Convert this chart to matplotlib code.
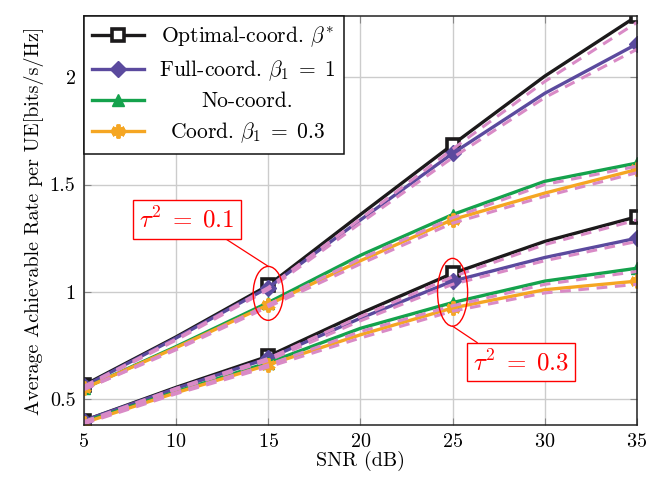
import numpy as np
import matplotlib
matplotlib.use("Agg")
import matplotlib.pyplot as plt
from matplotlib.patches import Ellipse
from matplotlib.ticker import FuncFormatter

plt.rcParams['font.family'] = 'serif'
plt.rcParams['font.serif'] = ['cmr10', 'DejaVu Serif']
plt.rcParams['mathtext.fontset'] = 'cm'
plt.rcParams['axes.unicode_minus'] = False
plt.rcParams['axes.formatter.use_mathtext'] = True

# SNR grid (markers on every other point)
snr = [5, 10, 15, 20, 25, 30, 35]

# tau^2 = 0.1 (analytical, solid)
opt1 = [0.565, 0.79, 1.03, 1.36, 1.686, 2.005, 2.285]
full1 = [0.56, 0.785, 1.02, 1.335, 1.645, 1.925, 2.155]
no1 = [0.55, 0.745, 0.95, 1.17, 1.36, 1.515, 1.60]
crd1 = [0.55, 0.74, 0.94, 1.145, 1.337, 1.46, 1.57]
# tau^2 = 0.3
opt3 = [0.40, 0.555, 0.70, 0.90, 1.086, 1.235, 1.35]
full3 = [0.40, 0.55, 0.69, 0.877, 1.05, 1.16, 1.25]
no3 = [0.395, 0.535, 0.67, 0.83, 0.95, 1.05, 1.11]
crd3 = [0.39, 0.53, 0.66, 0.80, 0.925, 1.01, 1.05]

# simulated (pink dashed)
opt1_d = [0.56, 0.78, 1.02, 1.34, 1.665, 1.98, 2.255]
full1_d = [0.555, 0.775, 1.01, 1.32, 1.625, 1.905, 2.13]
no1_d = [0.545, 0.735, 0.94, 1.155, 1.345, 1.5, 1.585]
crd1_d = [0.545, 0.73, 0.93, 1.13, 1.32, 1.445, 1.555]
opt3_d = [0.395, 0.55, 0.69, 0.885, 1.07, 1.22, 1.335]
full3_d = [0.395, 0.545, 0.68, 0.865, 1.035, 1.145, 1.235]
no3_d = [0.39, 0.53, 0.66, 0.815, 0.935, 1.035, 1.095]
crd3_d = [0.385, 0.525, 0.65, 0.785, 0.91, 0.995, 1.035]

labels = [r'Optimal-coord. $\beta^{*}$', r'Full-coord. $\beta_1\;=\;1$',
          'No-coord.', r'Coord. $\beta_1\;=\;0.3$']

c_blk = '#1c1a1b'
c_pur = '#5b4a9e'
c_grn = '#14a24c'
c_org = '#f5a623'
c_pnk = '#d98ac6'

fig = plt.figure(figsize=(6.55, 4.78), dpi=100)
ax = fig.add_axes([0.128, 0.111, 0.8445, 0.8555])

styles = [
    dict(color=c_blk, marker='s', ms=9, mfc='white', mec=c_blk, mew=2.6),
    dict(color=c_pur, marker='D', ms=8, mfc=c_pur, mec=c_pur),
    dict(color=c_grn, marker='^', ms=9, mfc=c_grn, mec=c_grn),
    dict(color=c_org, marker=(6, 2, 0), ms=10, mec=c_org, mew=2.8),
]

sets1 = [opt1, full1, no1, crd1]
sets3 = [opt3, full3, no3, crd3]
dash1 = [opt1_d, full1_d, no1_d, crd1_d]
dash3 = [opt3_d, full3_d, no3_d, crd3_d]

handles = []
for i in range(4):
    h, = ax.plot(snr, sets1[i], lw=2.4, markevery=2, label=labels[i], **styles[i])
    ax.plot(snr, sets3[i], lw=2.4, markevery=2, **styles[i])
    handles.append(h)
for i in range(4):
    ax.plot(snr, dash1[i], color=c_pnk, lw=2.2, ls=(0, (3.5, 2.5)))
    ax.plot(snr, dash3[i], color=c_pnk, lw=2.2, ls=(0, (3.5, 2.5)))

ax.set_xlim(5, 35)
ax.set_ylim(0.38, 2.285)
ax.set_xticks([5, 10, 15, 20, 25, 30, 35])
ax.set_yticks([0.5, 1, 1.5, 2])
ax.yaxis.set_major_formatter(FuncFormatter(lambda v, p: '%g' % v))
ax.grid(True, color='#cccccc', lw=1.0)
ax.set_axisbelow(True)
ax.tick_params(direction='in', length=5, color='#888888', labelsize=14.5,
               top=True, right=True, pad=6)
for s in ax.spines.values():
    s.set_color('#222222')
    s.set_linewidth(1.1)

ax.set_xlabel('SNR (dB)', fontsize=14.5, labelpad=0)
ax.set_ylabel('Average Achievable Rate per UE[bits/s/Hz]', fontsize=14.5, labelpad=4)

# ellipses and annotations
ax.add_patch(Ellipse((15, 0.993), 1.63, 0.251, fill=False, ec='red', lw=1.0, zorder=5))
ax.add_patch(Ellipse((25, 0.998), 1.63, 0.316, fill=False, ec='red', lw=1.0, zorder=5))
ax.annotate(r'$\tau^2\;=\;0.1$', xy=(15, 1.119), xytext=(10.59, 1.337),
            fontsize=18, color='red', ha='center', va='center', zorder=6,
            bbox=dict(boxstyle='square,pad=0.25', fc='white', ec='red', lw=1.0),
            arrowprops=dict(arrowstyle='-', color='red', lw=0.9, relpos=(0.8, 0.0),
                            shrinkA=0, shrinkB=0))
ax.annotate(r'$\tau^2\;=\;0.3$', xy=(25, 0.84), xytext=(28.71, 0.672),
            fontsize=18, color='red', ha='center', va='center', zorder=6,
            bbox=dict(boxstyle='square,pad=0.25', fc='white', ec='red', lw=1.0),
            arrowprops=dict(arrowstyle='-', color='red', lw=0.9, relpos=(0.15, 1.0),
                            shrinkA=0, shrinkB=0))

leg = ax.legend(handles=handles, loc='upper left', fontsize=15.5, frameon=True,
                fancybox=False, edgecolor='#111111', framealpha=1.0,
                borderaxespad=0, handlelength=2.4, labelspacing=0.42,
                borderpad=0.4, handletextpad=0.7, markerscale=1.0)
leg.get_frame().set_linewidth(1.1)
leg.set_zorder(10)

# centre legend labels like pgfplots
fig.canvas.draw()
r = fig.canvas.get_renderer()
texts = leg.get_texts()
widths = [t.get_window_extent(r).width for t in texts]
mw = max(widths)
for t, w in zip(texts, widths):
    t.set_position(((mw - w) / 2.0, 0))

fig.savefig('out.png', dpi=100)
